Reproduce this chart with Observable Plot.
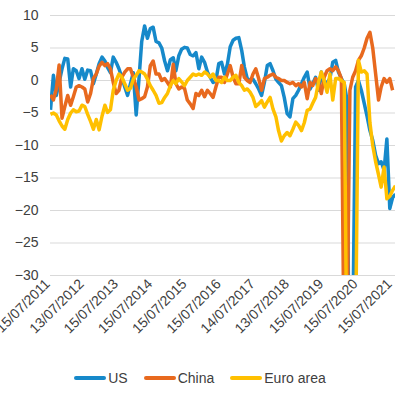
<!DOCTYPE html>
<html>
<head>
<meta charset="utf-8">
<script src="https://cdn.jsdelivr.net/npm/d3@7"></script>
<script src="https://cdn.jsdelivr.net/npm/@observablehq/plot@0.6"></script>
<style>
  body { margin: 0; background: #fff; font-family: "Liberation Sans", Arial, sans-serif; }
  #chart { width: 396px; }
  .legend { display: flex; justify-content: center; align-items: center; height: 31px; padding-left: 4px; font-size: 14px; color: #404040; }
  .legend .item { display: flex; align-items: center; margin: 0 8px; }
  .legend .swatch { width: 32px; height: 4px; border-radius: 2px; margin-right: 2px; }
</style>
</head>
<body>
<div id="chart"></div>
<script>
const seriesNames = ["US", "China", "Euro area"];
const seriesColors = ["#1689CA", "#E8691E", "#FFC000"];

const startMonth = "2011-07-15"; // monthly observations, Jul 2011 – Aug 2021
const tickLabels = ["15/07/2011","13/07/2012","15/07/2013","15/07/2014","15/07/2015","15/07/2016","14/07/2017","13/07/2018","15/07/2019","15/07/2020","15/07/2021"];
const yTicks = [10, 5, 0, -5, -10, -15, -20, -25, -30];

const us = [-4.5,0.8,-2.3,-0.3,1.8,3.4,3.3,-1.0,1.8,1.5,0.3,1.8,0.2,1.6,1.5,-0.5,1.0,2.6,3.6,3.0,
  2.0,1.2,3.6,2.8,1.8,0.5,-1.0,-2.3,-0.5,1.2,-5.3,0.5,6.0,8.4,6.5,8.0,8.2,6.0,5.8,5.0,
  3.0,1.5,3.2,3.5,1.5,3.8,4.8,5.1,5.0,4.0,3.8,4.3,1.8,3.6,2.8,1.3,0.5,-0.3,0.0,2.6,
  2.8,1.0,2.5,5.2,6.2,6.5,6.6,4.6,2.1,0.3,0.0,0.2,-0.5,-1.3,-2.3,-0.3,2.3,2.6,1.5,0.2,
  -0.3,-0.8,-2.6,-5.1,-5.6,-2.8,-2.3,-1.5,-0.5,0.5,1.3,-1.3,-0.5,0.5,-1.5,1.3,-0.8,-0.3,0.3,2.8,
  3.1,1.3,0.3,-0.5,-3.0,-60,-40,-1.0,0.0,-1.5,-3.5,-5.5,-7.7,-9.2,-11.5,-12.8,-12.5,-13.8,-9.0,-19.7,
  -18.0,-17.5];
const china = [-2.2,-3.0,-1.3,2.4,-5.8,-4.0,-2.3,-3.8,-2.5,-1.0,-0.8,-1.0,-1.3,-3.3,-2.0,0.3,1.0,2.2,2.8,2.3,
  2.6,1.8,-0.3,-2.0,-1.5,0.5,1.3,1.8,1.8,0.5,-1.0,-3.0,-2.8,-2.5,-1.0,2.3,3.0,1.0,1.0,0.0,
  0.3,-0.3,-1.0,2.5,-0.5,-1.3,-1.0,-1.2,-3.0,-3.6,-4.3,-2.0,-2.3,-1.5,-2.5,-1.5,-2.0,-2.6,-1.0,0.5,
  0.5,-0.3,1.0,2.3,0.5,-0.5,-0.5,2.3,0.5,0.0,-0.3,1.0,1.8,0.3,-1.5,0.3,0.5,0.8,1.0,0.5,
  0.3,0.0,0.0,-0.3,-0.5,-0.3,-0.8,-0.5,-1.0,-0.3,-2.8,-0.3,-0.8,0.3,-0.3,-2.0,0.5,1.5,1.8,1.5,
  2.1,1.5,0.3,-45,-40,-1.5,0.5,1.5,3.1,3.8,5.0,6.5,7.4,5.0,1.0,-3.0,-1.0,0.3,-0.3,0.3,
  -1.5,null];
const euroArea = [-5.2,-5.0,-5.3,-6.2,-7.0,-7.5,-6.0,-5.0,-4.5,-4.8,-4.7,-3.8,-4.0,-5.2,-6.3,-7.5,-6.0,-7.6,-5.5,-3.8,
  -4.9,-4.5,-1.5,0.0,1.0,0.5,-0.5,-1.5,-1.2,0.2,0.8,1.5,1.3,1.0,0.2,-0.8,-1.5,-2.3,-3.5,-3.4,
  -2.6,-2.0,-0.8,0.0,-0.5,0.3,-0.2,-0.8,0.0,0.5,1.0,0.8,1.0,0.8,1.3,1.0,0.5,1.0,0.0,0.0,
  -0.3,0.5,0.0,0.0,0.5,0.8,-0.3,-0.8,-1.5,-1.3,-1.8,-2.6,-4.0,-3.6,-3.1,-4.1,-3.3,-2.6,-4.4,-5.6,
  -7.7,-9.3,-8.5,-8.0,-8.5,-7.5,-6.4,-6.9,-7.7,-6.5,-4.6,-4.4,-3.5,-2.6,-0.3,1.3,0.0,-1.8,1.0,-3.0,
  0.3,0.3,0.0,-0.3,-45,-60,-50,-40,3.1,1.3,1.5,1.0,-6.5,-10.0,-12.5,-14.5,-16.4,-13.3,-18.2,-17.8,
  -16.9,-16.2];

const parseTick = d3.utcParse("%d/%m/%Y");
const fmtTick = d3.utcFormat("%d/%m/%Y");
const tickDates = tickLabels.map(parseTick);

const start = d3.utcParse("%Y-%m-%d")(startMonth);
const dates = us.map((_, i) => d3.utcMonth.offset(start, i));

const rows = [];
[us, china, euroArea].forEach((arr, s) => {
  arr.forEach((v, i) => rows.push({date: dates[i], value: v, series: seriesNames[s]}));
});

const chart = Plot.plot({
  width: 396,
  height: 362,
  marginLeft: 50,
  marginRight: 1,
  marginTop: 15,
  marginBottom: 87,
  style: {fontFamily: '"Liberation Sans", Arial, sans-serif', fontSize: "14px", color: "#404040", background: "#fff"},
  x: {type: "utc", domain: [dates[0], dates[dates.length - 1]]},
  y: {domain: [-30, 10]},
  color: {domain: seriesNames, range: seriesColors},
  marks: [
    Plot.gridY(yTicks, {stroke: "#d9d9d9", strokeOpacity: 1, strokeWidth: 1}),
    Plot.axisY({ticks: yTicks, tickSize: 0, tickPadding: 12, fontSize: 14, label: null}),
    Plot.axisX({ticks: tickDates, tickFormat: fmtTick, tickRotate: -45, tickSize: 0, tickPadding: 6, dx: -3, fontSize: 14, label: null}),
    Plot.line(rows, {x: "date", y: "value", z: "series", stroke: "series", strokeWidth: 3.5, strokeLinejoin: "round", strokeLinecap: "butt", clip: true})
  ]
});
document.getElementById("chart").appendChild(chart);

const legend = document.createElement("div");
legend.className = "legend";
seriesNames.forEach((name, i) => {
  const item = document.createElement("div");
  item.className = "item";
  const sw = document.createElement("span");
  sw.className = "swatch";
  sw.style.background = seriesColors[i];
  const label = document.createElement("span");
  label.textContent = name;
  item.appendChild(sw);
  item.appendChild(label);
  legend.appendChild(item);
});
document.getElementById("chart").appendChild(legend);
</script>
</body>
</html>
